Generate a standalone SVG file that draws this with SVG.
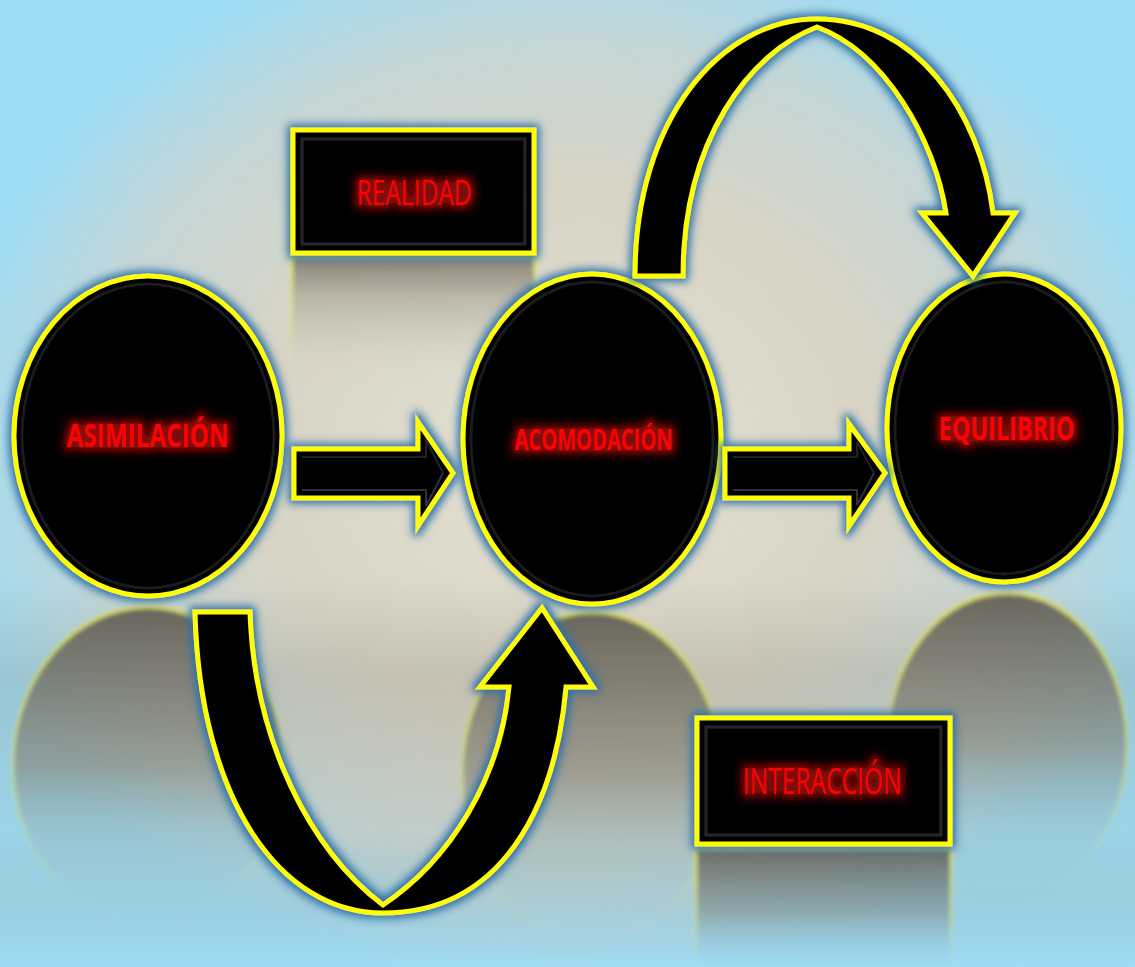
<svg xmlns="http://www.w3.org/2000/svg" width="1135" height="967" viewBox="0 0 1135 967">
<defs>
<radialGradient id="bg" cx="0.5" cy="0.47" r="0.55">
<stop offset="0" stop-color="#e4e1d4"/>
<stop offset="0.5" stop-color="#d8d4c5"/>
<stop offset="0.78" stop-color="#c4d6d6"/>
<stop offset="1" stop-color="#9ddcf4"/>
</radialGradient>
<linearGradient id="band" x1="0" y1="0" x2="0" y2="1">
<stop offset="0" stop-color="#8a8475" stop-opacity="0"/>
<stop offset="0.6" stop-color="#8a8475" stop-opacity="0"/>
<stop offset="0.7" stop-color="#8a8475" stop-opacity="0.25"/>
<stop offset="0.86" stop-color="#8a8475" stop-opacity="0.1"/>
<stop offset="1" stop-color="#9ddcf4" stop-opacity="0.5"/>
</linearGradient>
<linearGradient id="refl" x1="0" y1="0" x2="0" y2="1">
<stop offset="0" stop-color="#5e5950" stop-opacity="0.9"/>
<stop offset="0.5" stop-color="#858274" stop-opacity="0.6"/>
<stop offset="1" stop-color="#9ddcf4" stop-opacity="0"/>
</linearGradient>
<linearGradient id="reflStroke" x1="0" y1="0" x2="0" y2="1">
<stop offset="0" stop-color="#e4e65a" stop-opacity="0.9"/>
<stop offset="0.6" stop-color="#d6e47a" stop-opacity="0.5"/>
<stop offset="1" stop-color="#c8e8a0" stop-opacity="0"/>
</linearGradient>
<linearGradient id="reflRect" x1="0" y1="0" x2="0" y2="1">
<stop offset="0" stop-color="#6e675e" stop-opacity="0.8"/>
<stop offset="0.35" stop-color="#a9a596" stop-opacity="0.6"/>
<stop offset="1" stop-color="#d8d5c5" stop-opacity="0"/>
</linearGradient>
<linearGradient id="reflRect2" x1="0" y1="0" x2="0" y2="1">
<stop offset="0" stop-color="#5e5a52" stop-opacity="0.85"/>
<stop offset="0.5" stop-color="#7d8c8c" stop-opacity="0.6"/>
<stop offset="1" stop-color="#9ddcf4" stop-opacity="0"/>
</linearGradient>
<filter id="glow" x="-20%" y="-20%" width="140%" height="140%">
<feMorphology in="SourceAlpha" operator="dilate" radius="3" result="d"/>
<feGaussianBlur in="d" stdDeviation="4" result="b"/>
<feFlood flood-color="#2b6fa6"/>
<feComposite in2="b" operator="in" result="g"/>
<feMerge><feMergeNode in="g"/><feMergeNode in="SourceGraphic"/></feMerge>
</filter>
<filter id="tglow" x="-20%" y="-60%" width="140%" height="220%">
<feMorphology in="SourceAlpha" operator="dilate" radius="2" result="d"/>
<feGaussianBlur in="d" stdDeviation="4" result="b"/>
<feFlood flood-color="#8a0c0c"/>
<feComposite in2="b" operator="in" result="g"/>
<feMerge><feMergeNode in="g"/><feMergeNode in="g"/><feMergeNode in="SourceGraphic"/></feMerge>
</filter>
<filter id="soft" x="-10%" y="-10%" width="120%" height="120%">
<feGaussianBlur stdDeviation="2"/>
</filter>
</defs>
<style>
.node{fill:#050505;stroke:#ffff00;stroke-width:5}
.bevel{fill:none;stroke:#1f1f1f;stroke-width:2.5}
.bevelLight{fill:none;stroke:#262626;stroke-width:3}
.arrow{fill:#000;stroke:#ffff00;stroke-width:5;stroke-linejoin:miter}
.lbl{fill:#ff0000;font-family:"Open Sans","Noto Sans","Liberation Sans",sans-serif;filter:url(#tglow)}
.b{font-weight:bold}
.reflE{fill:url(#refl);stroke:url(#reflStroke);stroke-width:3}
</style>

<rect x="0" y="0" width="1135" height="967" fill="url(#bg)"/>
<rect x="0" y="0" width="1135" height="967" fill="url(#band)"/>

<g id="reflections" filter="url(#soft)">
<ellipse class="reflE" cx="148" cy="765" rx="135" ry="158"/>
<ellipse class="reflE" cx="592" cy="775" rx="130" ry="163"/>
<ellipse class="reflE" cx="1007" cy="745" rx="120" ry="152"/>
<rect x="292" y="256" width="243" height="124" fill="url(#reflRect)" stroke="url(#reflStroke)" stroke-width="3"/>
<rect x="696" y="848" width="255" height="125" fill="url(#reflRect2)" stroke="url(#reflStroke)" stroke-width="3"/>
</g>

<g id="node-asimilacion" filter="url(#glow)">
<ellipse class="node" cx="148" cy="436" rx="134" ry="160"/>
<ellipse class="bevel" cx="148" cy="436" rx="126" ry="152"/>
<text class="lbl b" x="67" y="447" font-size="33" textLength="162" lengthAdjust="spacingAndGlyphs">ASIMILACIÓN</text>
</g>

<g id="node-acomodacion" filter="url(#glow)">
<ellipse class="node" cx="592" cy="439" rx="129" ry="165"/>
<ellipse class="bevel" cx="592" cy="439" rx="121" ry="157"/>
<text class="lbl b" x="515" y="450" font-size="28" textLength="158" lengthAdjust="spacingAndGlyphs">ACOMODACIÓN</text>
</g>

<g id="node-equilibrio" filter="url(#glow)">
<ellipse class="node" cx="1004" cy="428" rx="117" ry="154"/>
<ellipse class="bevel" cx="1004" cy="428" rx="109" ry="146"/>
<text class="lbl b" x="939" y="440" font-size="32" textLength="136" lengthAdjust="spacingAndGlyphs">EQUILIBRIO</text>
</g>

<g id="node-realidad" filter="url(#glow)">
<rect class="node" x="293" y="130" width="241" height="123"/>
<rect class="bevelLight" x="302" y="139" width="223" height="105"/>
<text class="lbl" x="357" y="205" font-size="35" textLength="115" lengthAdjust="spacingAndGlyphs">REALIDAD</text>
</g>

<g id="node-interaccion" filter="url(#glow)">
<rect class="node" x="697" y="718" width="253" height="126"/>
<rect class="bevelLight" x="706" y="727" width="235" height="108"/>
<text class="lbl" x="743" y="794" font-size="36" textLength="159" lengthAdjust="spacingAndGlyphs">INTERACCIÓN</text>
</g>

<g id="connectors" filter="url(#glow)">
<path class="arrow" d="M294,449 L418,449 L418,422 L453,473 L418,526 L418,498 L294,498 Z"/>
<path d="M302,457 L426,457 L426,440 L443,473" fill="none" stroke="#222" stroke-width="2"/>
<path d="M302,490 L426,490 L426,506 L443,473" fill="none" stroke="#333" stroke-width="2"/>
<path class="arrow" d="M725,449 L849,449 L849,424 L885,473 L849,526 L849,498 L725,498 Z"/>
<path d="M733,457 L857,457 L857,442 L874,473" fill="none" stroke="#222" stroke-width="2"/>
<path d="M733,490 L857,490 L857,505 L874,473" fill="none" stroke="#333" stroke-width="2"/>
<path class="arrow" d="M635,276 C635,120 720,19 817,19 C915,19 980,110 993,213 L1015,213 L973,276 L922,213 L946,213 C935,140 885,52 817,27 C750,52 683,140 683,276 Z"/>
<path class="arrow" d="M195,612 L250,612 C254,740 310,850 383,905 C450,860 500,780 509,687 L480,687 L542,608 L593,687 L566,687 C555,810 500,913 383,913 C280,913 200,800 195,612 Z"/>
</g>
</svg>
